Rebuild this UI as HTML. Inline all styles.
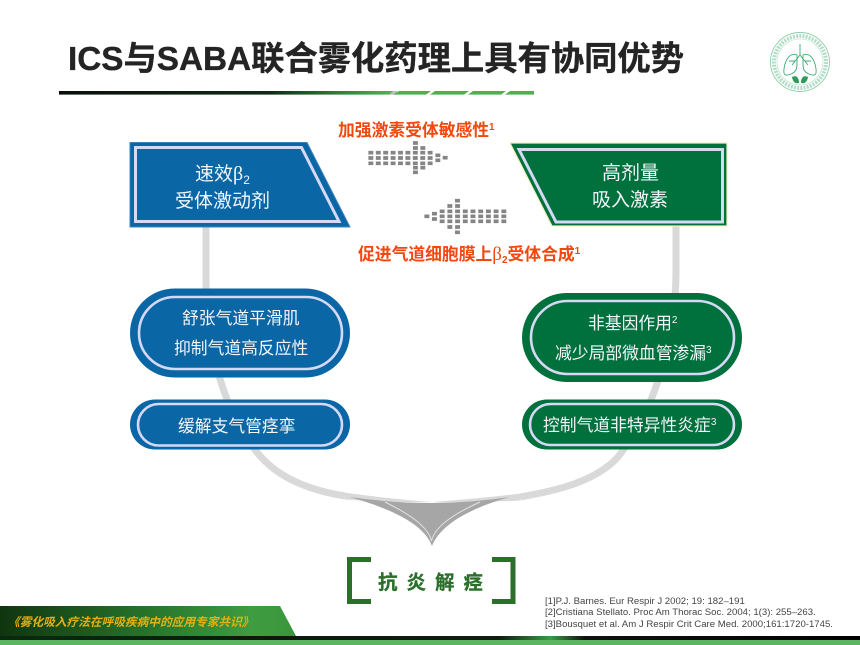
<!DOCTYPE html>
<html lang="zh"><head><meta charset="utf-8"><title>ICS与SABA联合雾化药理上具有协同优势</title>
<style>
html,body{margin:0;padding:0;background:#fff}
svg{display:block}
text{font-family:"Liberation Sans","Noto Sans CJK SC",sans-serif}
.w{fill:#f2f5fa;font-size:16.8px}
.t{fill:#f2f5fa;font-size:19px}
.o{fill:#f4470f;font-size:16.8px;font-weight:700}
.b{font-family:"Liberation Serif","Noto Serif CJK SC",serif}
.r{fill:#444;font-size:9.6px}
</style></head><body>
<svg width="860" height="645" viewBox="0 0 860 645" xmlns="http://www.w3.org/2000/svg">
<defs>
<linearGradient id="rule" x1="0" x2="1" y1="0" y2="0"><stop offset="0" stop-color="#0a0f0a"/><stop offset=".62" stop-color="#0f2a14"/><stop offset=".85" stop-color="#2f8a3c"/><stop offset="1" stop-color="#57b659"/></linearGradient>
<linearGradient id="ban" x1="0" x2="1" y1="0" y2="0"><stop offset="0" stop-color="#103510"/><stop offset=".55" stop-color="#2a7a2e"/><stop offset=".85" stop-color="#3f9c40"/><stop offset="1" stop-color="#3a963c"/></linearGradient>
<linearGradient id="bot" x1="0" x2="1" y1="0" y2="0"><stop offset="0" stop-color="#0a2a10"/><stop offset=".3" stop-color="#0a1a0c"/><stop offset=".58" stop-color="#101c10"/><stop offset=".64" stop-color="#3c9a48"/><stop offset=".68" stop-color="#111"/><stop offset="1" stop-color="#000"/></linearGradient>
</defs>
<rect width="860" height="645" fill="#fff"/>

<!-- title -->
<text x="68" y="70" font-size="33.3" font-weight="700" fill="#242424" stroke="#242424" stroke-width=".35">ICS与SABA联合雾化药理上具有协同优势</text>
<rect x="59" y="91" width="338" height="3.6" fill="url(#rule)"/>
<path d="M393,91H398L394,94.6H389Z" fill="#bbb"/>
<path d="M399,91H431L426,94.6H394Z M435,91H469L464,94.6H430Z M473,91H506L501,94.6H468Z M510,91H534V94.6H505Z" fill="#4fb04f"/>

<!-- logo -->
<g fill="none" stroke="#3fa873">
<circle cx="800" cy="62" r="29.5" stroke-width=".9" stroke="#8ccfad"/>
<circle cx="800" cy="62" r="26" stroke-width="4" stroke-dasharray="2 1.2" opacity=".4"/>
<circle cx="800" cy="62" r="23" stroke-width=".6" stroke="#b4e0ca"/>
<path d="M797,55C790,52 785,60 784,69C783,76 786,76 791,74C796,72 797,69 797,63Z" stroke-width=".9"/>
<path d="M803,55C810,52 815,60 816,69C817,76 814,76 809,74C804,72 803,69 803,63Z" stroke-width=".9"/>
<path d="M800,44V55M800,55L792,65M800,55L808,65M795,61L789,61M805,61L811,61" stroke-width=".9"/>
</g>
<path d="M792,77C796,75 799,77 799,83C795,84 793,82 792,77ZM808,77C804,75 801,77 801,83C805,84 807,82 808,77Z" fill="#2f9a5c"/>

<!-- orange labels -->
<text class="o" x="338" y="136">加强激素受体敏感性<tspan font-size="10" dy="-6">1</tspan></text>
<text class="o" x="358" y="260">促进气道细胞膜上<tspan class="b" font-size="19" font-weight="400">β</tspan><tspan font-size="10" dy="3">2</tspan><tspan dy="-3">受体合成</tspan><tspan font-size="10" dy="-6">1</tspan></text>

<!-- dotted arrows -->
<g stroke="#858585" stroke-width="3.7" fill="none">
<path stroke-dasharray="4.9 2.51" d="M368.4,152.7H432.6M368.4,158H432.6M368.4,163.3H432.6M413,143H417.9M413,148H425.3M413,167.7H425.3M413,172.3H417.9M435.4,155.3H440.3M435.4,160.3H440.3M442.7,157.7H447.6"/>
<path stroke-dasharray="4.9 2.81" d="M439.7,211.3H506.3M439.7,216.3H506.3M439.7,221.3H506.3M424.4,216.3H429.3M432,213.7H436.9M432,219H436.9M447.4,206H460M447.4,227H460M455,200.7H459.9M455,232.3H459.9"/>
</g>

<!-- connectors -->
<g fill="none" stroke="#d9d9d9" stroke-width="7">
<path d="M206,225V280C206,340 222,415 262,458C285,483 320,492 345,496"/>
<path d="M676,225V270C676,340 655,410 618,457C595,482 555,491 520,497"/>
</g>
<path d="M344,492.5Q390,499 432,502Q390,503 345,499.5Z" fill="#d9d9d9"/>
<path d="M521,493.5Q475,499 432,502Q475,503 520,500.5Z" fill="#d9d9d9"/>
<path d="M350,497Q431,509 510,497C470,508 440,525 432,546C424,525 395,510 350,497Z" fill="#a6a6a6"/>
<path d="M385,502C405,512 428,525 431.5,541C435,525 458,512 480,502" fill="none" stroke="#e2e2e2" stroke-width="1"/>

<!-- left box -->
<path d="M130,142.5H307L350,227H130Z" fill="#0b66a6" stroke="#3c84b8" stroke-width="1"/>
<path d="M135.5,147.5H301.5L339,221.5H135.5Z" fill="#0b66a6" stroke="#d6d9f6" stroke-width="3"/>
<text class="t" x="195" y="180">速效<tspan class="b" font-size="20">β</tspan><tspan font-size="12" dy="4">2</tspan></text>
<text class="t" x="175" y="207">受体激动剂</text>

<!-- right box -->
<path d="M510,143H727V226H552Z" fill="#00703c" stroke="#f6eec0" stroke-width="1.2"/>
<path d="M519,149.5H722.5V222H556Z" fill="#00703c" stroke="#d6d9f6" stroke-width="3"/>
<text class="t" x="602" y="179">高剂量</text>
<text class="t" x="592" y="206">吸入激素</text>

<!-- left pills -->
<rect x="130" y="288.5" width="220" height="89" rx="44.5" fill="#0b66a6"/>
<rect x="139" y="297" width="203" height="72" rx="36" fill="none" stroke="#d6d9f6" stroke-width="2.6"/>
<text class="w" x="182" y="324">舒张气道平滑肌</text>
<text class="w" x="174" y="354">抑制气道高反应性</text>
<rect x="130" y="399.5" width="220" height="50" rx="25" fill="#0b66a6"/>
<rect x="138" y="404" width="204" height="41.5" rx="20.7" fill="none" stroke="#d6d9f6" stroke-width="2.6"/>
<text class="w" x="178" y="432">缓解支气管痉挛</text>

<!-- right pills -->
<rect x="522" y="293" width="220" height="89" rx="44.5" fill="#00703c"/>
<rect x="531" y="301" width="203" height="73" rx="36.5" fill="none" stroke="#d6d9f6" stroke-width="2.6"/>
<text class="w" x="588" y="329">非基因作用<tspan font-size="10" dy="-6">2</tspan></text>
<text class="w" x="555" y="359">减少局部微血管渗漏<tspan font-size="10" dy="-6">3</tspan></text>
<rect x="522" y="399.5" width="220" height="50" rx="25" fill="#00703c"/>
<rect x="530" y="404" width="204" height="41" rx="20.5" fill="none" stroke="#d6d9f6" stroke-width="2.6"/>
<text class="w" x="543" y="431">控制气道非特异性炎症<tspan font-size="10" dy="-6">3</tspan></text>

<!-- brackets -->
<path d="M371,559.5H349.5V601.5H371" fill="none" stroke="#2b6f2b" stroke-width="5"/>
<path d="M492,559.5H513V601.5H492" fill="none" stroke="#2b6f2b" stroke-width="5"/>
<text x="378" y="589" font-size="19.5" font-weight="700" fill="#2b6f2b" stroke="#2b6f2b" stroke-width=".3" letter-spacing="9">抗炎解痉</text>

<!-- references -->
<text class="r" x="545" y="604">[1]P.J. Barnes. Eur Respir J 2002; 19: 182–191</text>
<text class="r" x="545" y="615">[2]Cristiana Stellato. Proc Am Thorac Soc. 2004; 1(3): 255–263.</text>
<text class="r" x="545" y="627">[3]Bousquet et al. Am J Respir Crit Care Med. 2000;161:1720-1745.</text>

<!-- footer -->
<path d="M0,606H280L296,636H0Z" fill="url(#ban)"/>
<text x="8" y="626" font-size="11.7" font-weight="700" font-style="italic" fill="#e8b010">《雾化吸入疗法在呼吸疾病中的应用专家共识》</text>
<rect x="0" y="636" width="860" height="4" fill="url(#bot)"/>
<rect x="0" y="640" width="860" height="5" fill="#5cb560"/>
</svg>
</body></html>
